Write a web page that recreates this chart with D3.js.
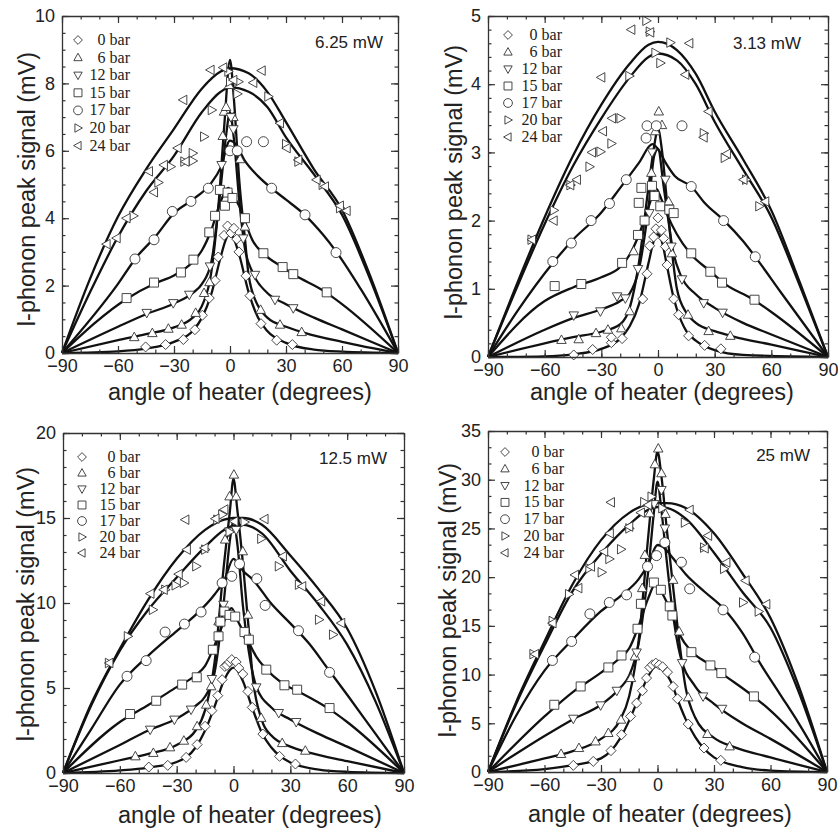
<!DOCTYPE html>
<html>
<head>
<meta charset="utf-8">
<script src="https://cdn.jsdelivr.net/npm/d3@7"></script>
<style>
  body { margin: 0; background: #fff; }
  text { fill: #222; }
</style>
</head>
<body>
<svg id="chart" width="838" height="833"></svg>
<script>
// ---- data ----
const pressures = ["0 bar", "6 bar", "12 bar", "15 bar", "17 bar", "20 bar", "24 bar"];
const powers = ["6.25 mW", "3.13 mW", "12.5 mW", "25 mW"];
const xTickValues = [-90, -60, -30, 0, 30, 60, 90];
const p1YTicks = [0, 2, 4, 6, 8, 10];
const p2YTicks = [0, 1, 2, 3, 4, 5];
const p3YTicks = [0, 5, 10, 15, 20];
const p4YTicks = [0, 5, 10, 15, 20, 25, 30, 35];

// panel 1 : 6.25 mW  (angle, signal)
const p1_pts_0 = [[-45.2,0.18],[-34.5,0.25],[-25,0.40],[-18.8,0.69],[-14.8,1.12],[-11.1,1.63],[-8,2.15],[-6.3,2.85],[-3.2,3.49],[-1.3,3.77],[0.5,3.56],[2.1,3.7],[3.6,3.38],[4.8,3.0],[8.6,2.29],[10.7,1.70],[16.6,0.87],[25,0.38],[33.4,0.25]];
const p1_pts_6 = [[-51.3,0.47],[-41.6,0.59],[-33,0.72],[-25.9,0.84],[-18.4,1.19],[-13.9,1.78],[-11,2.1],[-3.9,6.44],[-3.2,7.16],[-2.1,7.3],[-0.5,7.95],[1.8,7.0],[5.4,5.75],[8,3.75],[16.4,1.28],[26.8,0.84],[38.4,0.62]];
const p1_pts_12 = [[-44.6,1.19],[-30.4,1.48],[-21.8,1.73],[-10.7,2.57],[-4.5,5.58],[0.5,7.0],[1.8,6.64],[7.1,3.4],[13.4,2.32],[24.1,1.58],[33.9,1.33]];
const p1_pts_15 = [[-55.4,1.63],[-40.7,2.09],[-26.3,2.39],[-19.6,2.77],[-11.1,3.58],[-8,4.07],[-5.4,4.84],[-2.7,4.37],[-1.3,4.76],[1.3,4.6],[8,4.0],[17.9,2.96],[28.2,2.55],[33.9,2.34],[51.8,1.8]];
const p1_pts_17 = [[-50.9,2.79],[-40.7,3.36],[-30.9,4.2],[-20.9,4.5],[-11.6,4.89],[0,6.0],[3.9,6.0],[8.9,6.27],[17.9,6.27],[22.3,4.89],[40.2,4.1],[56.8,2.98]];
const p1_pts_20 = [[-51.8,4.07],[-38.4,5.06],[-31.8,5.53],[-24.5,5.68],[-20,5.93],[-20,5.7],[-13.9,6.42],[-9.8,7.21],[-0.9,8.35],[0,8.05],[4.5,8.05],[3.9,7.69],[20.5,7.61],[30,6.2],[36.6,5.68],[49.6,4.99],[58.9,4.3]];
const p1_pts_24 = [[-66.1,3.23],[-60.7,3.41],[-55.4,4.0],[-43.4,5.39],[-40.7,4.77],[-35.4,5.58],[-28,6.08],[-25,7.51],[-23.8,5.68],[-10.4,8.4],[-3.6,8.47],[1.8,8.1],[12.5,8.02],[17,8.38],[26.8,6.82],[30.4,6.08],[36.6,5.73],[46.4,5.14],[50.9,4.94],[58.9,4.37],[62.5,4.22]];
const p1_fit_0 = [[-90,0],[-60,0.05],[-45,0.13],[-30,0.33],[-20,0.65],[-15,1.05],[-10,1.75],[-5,2.85],[-2,3.4],[0,3.55],[2,3.4],[5,2.9],[10,1.8],[15,1.05],[20,0.65],[30,0.3],[45,0.1],[60,0.04],[90,0]];
const p1_fit_6 = [[-90,0],[-60,0.38],[-45,0.56],[-30,0.76],[-20,1.05],[-15,1.4],[-10,2.4],[-6,4.5],[-3,6.8],[0,8.7],[2,7.6],[5,5.1],[8,3.4],[10,2.3],[15,1.4],[20,1.05],[30,0.78],[40,0.6],[60,0.33],[90,0]];
const p1_fit_12 = [[-90,0],[-60,0.78],[-45,1.15],[-30,1.47],[-20,1.78],[-15,2.05],[-10,2.7],[-5,4.9],[-2,6.5],[0,7.15],[2,6.4],[5,4.5],[8,3.1],[12,2.4],[20,1.78],[30,1.45],[45,1.05],[60,0.7],[90,0]];
const p1_fit_15 = [[-90,0],[-55,1.62],[-40,2.07],[-30,2.3],[-20,2.7],[-15,3.05],[-10,3.65],[-5,4.5],[-1,4.9],[2,4.65],[5,4.35],[8,3.9],[12,3.35],[18,2.95],[28,2.55],[35,2.3],[50,1.85],[60,1.45],[90,0]];
const p1_fit_17 = [[-90,0],[-60,2.05],[-50,2.85],[-40,3.45],[-30,4.15],[-20,4.55],[-10,5.05],[-5,5.5],[0,6.3],[3,6.2],[8,5.7],[15,5.25],[22,4.9],[30,4.55],[40,4.1],[50,3.5],[57,3.0],[70,1.9],[90,0]];
const p1_fit_20 = [[-90,0],[-75,1.8],[-60,3.45],[-45,4.8],[-30,5.85],[-15,7.15],[-5,7.75],[0,7.88],[10,7.75],[20,7.3],[30,6.4],[45,5.3],[60,4.1],[75,2.2],[90,0]];
const p1_fit_24 = [[-90,0],[-75,2.2],[-60,4.05],[-45,5.45],[-30,6.65],[-15,7.85],[-5,8.35],[0,8.45],[10,8.3],[20,7.75],[30,6.85],[45,5.45],[60,4.25],[75,2.3],[90,0]];

// panel 2 : 3.13 mW
const p2_pts_0 = [[-44.6,0.03],[-34.6,0.11],[-24.7,0.21],[-24.7,0.29],[-19,0.27],[-8.1,0.85],[-5.8,1.22],[-4.4,1.63],[-2.3,1.76],[-1.1,1.88],[0,2.04],[1.8,1.86],[3,1.74],[3.9,1.62],[4.8,1.35],[8.3,0.85],[10.9,0.62],[16.2,0.31],[24.7,0.17],[33.3,0.12]];
const p2_pts_6 = [[-51.1,0.25],[-42,0.26],[-32.8,0.35],[-26.5,0.4],[-19.4,0.42],[-15,0.67],[-12.9,1.55],[-3.5,2.7],[-1.4,3.31],[0.4,3.6],[2.1,3.4],[5.6,2.28],[7.4,1.52],[15.9,0.62],[26.8,0.38],[38.3,0.31]];
const p2_pts_12 = [[-44.6,0.61],[-30.5,0.67],[-21.7,0.89],[-17.3,0.86],[-10.6,1.29],[-4.6,2.11],[-3.2,3.0],[3.9,2.6],[7.1,1.62],[12.7,1.14],[24.2,0.79],[34.2,0.65]];
const p2_pts_15 = [[-54.7,1.04],[-40.6,1.07],[-19,1.38],[-10.6,1.79],[-7.1,2.0],[-8.8,2.48],[-10.2,2.26],[-3.2,2.51],[-1.8,2.36],[1.2,2.21],[6,2.16],[8.3,2.11],[17.6,1.52],[27.7,1.25],[33.9,1.09],[51.1,0.84]];
const p2_pts_17 = [[-55.7,1.4],[-45.9,1.67],[-35.4,2.0],[-25.7,2.25],[-16.8,2.6],[-5.8,3.39],[-6.3,3.21],[-0.9,3.39],[12.7,3.39],[17.6,2.5],[34.7,2.0],[51.5,1.47]];
const p2_pts_20 = [[-67,1.72],[-55.2,2.15],[-46.4,2.52],[-36.3,2.79],[-30.5,3.01],[-24.7,3.13],[-19.9,3.5],[-15.2,4.12],[-6.2,4.93],[-4.4,4.77],[-1.4,4.46],[1.2,4.31],[6.5,4.61],[24.2,3.28],[35.3,2.92],[46.6,2.6],[53.6,2.21]];
const p2_pts_24 = [[-66.7,1.72],[-55.2,2.0],[-46.4,2.52],[-42.9,2.6],[-34.9,3.0],[-29.1,3.31],[-30,4.1],[-24.3,3.5],[-14.1,4.8],[-4.1,4.76],[16.6,4.6],[14.5,4.14],[26.8,3.6],[24.2,3.22],[36.5,2.98],[45.3,2.6],[56.8,2.28]];
const p2_fit_0 = [[-90,0],[-60,0.01],[-45,0.04],[-30,0.12],[-20,0.27],[-15,0.45],[-10,0.78],[-5,1.38],[-2,1.72],[0,1.8],[2,1.7],[5,1.3],[8,0.9],[10,0.7],[15,0.38],[20,0.24],[30,0.1],[45,0.03],[90,0]];
const p2_fit_6 = [[-90,0],[-60,0.2],[-45,0.29],[-30,0.37],[-20,0.48],[-15,0.72],[-10,1.4],[-5,2.5],[-2,3.1],[0,3.35],[2,3.05],[5,2.2],[8,1.4],[10,1.0],[15,0.65],[20,0.5],[30,0.38],[40,0.3],[60,0.18],[90,0]];
const p2_fit_12 = [[-90,0],[-60,0.4],[-45,0.57],[-30,0.7],[-20,0.82],[-15,0.93],[-10,1.3],[-5,2.2],[-2,2.95],[0,3.05],[3,2.5],[5,2.1],[8,1.55],[12,1.2],[20,0.92],[30,0.72],[45,0.5],[60,0.33],[90,0]];
const p2_fit_15 = [[-90,0],[-60,0.82],[-45,1.02],[-30,1.17],[-20,1.32],[-15,1.5],[-10,1.8],[-5,2.2],[-1,2.47],[2,2.3],[5,2.08],[10,1.8],[17,1.52],[28,1.25],[35,1.08],[50,0.85],[60,0.66],[90,0]];
const p2_fit_17 = [[-90,0],[-75,0.65],[-55,1.4],[-45,1.72],[-30,2.12],[-20,2.48],[-10,2.85],[-3,3.12],[0,3.05],[4,2.85],[9,2.65],[17.6,2.5],[25,2.25],[35,2.0],[45,1.7],[52,1.45],[65,0.95],[90,0]];
const p2_fit_20 = [[-90,0],[-75,1.0],[-60,1.95],[-45,2.8],[-30,3.5],[-15,4.1],[-5,4.4],[0,4.45],[10,4.35],[20,4.0],[30,3.45],[45,2.75],[60,2.05],[75,1.05],[90,0]];
const p2_fit_24 = [[-90,0],[-75,1.05],[-60,2.05],[-45,2.95],[-30,3.7],[-15,4.3],[-5,4.58],[0,4.62],[10,4.5],[20,4.15],[30,3.6],[45,2.9],[60,2.15],[75,1.1],[90,0]];

// panel 3 : 12.5 mW
const p3_pts_0 = [[-44.7,0.35],[-34.7,0.45],[-25,0.92],[-19.2,1.67],[-15,2.75],[-11.4,3.67],[-8.3,4.55],[-6,5.49],[-4.6,6.27],[-3.5,6.33],[-2.1,6.53],[-0.9,6.67],[1.4,6.53],[2.8,6.18],[4.9,5.82],[7.6,4.8],[9.9,3.86],[15.5,2.29],[24.3,0.98],[32.7,0.53]];
const p3_pts_6 = [[-51.8,0.98],[-42.3,1.18],[-33.5,1.51],[-26.2,1.9],[-19.2,2.75],[-14.4,4.02],[-11.8,5.1],[-7.9,8.92],[-4.4,13.73],[-2.1,16.27],[0.2,17.55],[1.4,16.27],[4.9,13.04],[7.6,9.31],[14.6,3.24],[25.7,1.76],[37.9,1.31]];
const p3_pts_12 = [[-44,2.55],[-31.2,3.14],[-22.4,3.73],[-11.4,5.53],[-7,8.92],[-5.3,9.9],[-2.5,14.2],[1.4,14.3],[6.7,7.98],[12,5.04],[23.9,3.53],[33.1,3.0]];
const p3_pts_15 = [[-54.6,3.47],[-40.8,4.25],[-27.1,5.2],[-19.4,5.63],[-10.9,7.25],[-7.9,8.04],[-6.9,8.9],[-4.8,9.5],[-2.1,9.3],[0.9,9.2],[5.8,8.29],[8.1,7.84],[17.3,6.08],[26.9,5.16],[33.6,4.9],[50.7,3.82]];
const p3_pts_17 = [[-56.2,5.69],[-46.1,6.61],[-36.1,8.29],[-25.9,8.76],[-17.1,9.47],[-6,11.18],[-0.9,11.57],[3.2,12.3],[12.3,11.43],[16.7,9.86],[34.3,8.37],[50.7,5.92]];
const p3_pts_20 = [[-65.8,6.47],[-55.8,8.04],[-42.6,9.6],[-36.1,10.78],[-30.6,11.04],[-26.2,11.18],[-19.7,12.16],[-15,13.14],[-8.6,14.9],[-6,15.2],[-2.1,14.18],[5.8,14.76],[14.6,13.78],[23.9,12.16],[34.5,11.08],[45.1,9.02],[52.5,8.14]];
const p3_pts_24 = [[-65.5,6.47],[-43.8,10.55],[-36.8,10.78],[-28.9,11.7],[-25.4,14.9],[-24.6,13.14],[-15.3,13.24],[-9.5,14.96],[-4.8,15.5],[0.5,14.8],[16.4,14.94],[26.1,12.75],[36.3,10.98],[46.3,10.1],[56.9,8.82]];
const p3_fit_0 = [[-90,0],[-60,0.15],[-45,0.32],[-30,0.65],[-20,1.5],[-15,2.5],[-10,3.9],[-5,5.45],[-2,6.05],[0,6.2],[2,6.05],[5,5.4],[10,3.8],[15,2.35],[20,1.5],[30,0.62],[45,0.2],[60,0.07],[90,0]];
const p3_fit_6 = [[-90,0],[-60,0.75],[-45,1.12],[-30,1.65],[-20,2.5],[-15,3.7],[-10,6.5],[-5,12.3],[-2,15.3],[0,17.3],[2,15.5],[5,12.3],[8,8.5],[10,5.8],[15,3.1],[20,2.2],[30,1.55],[40,1.2],[60,0.7],[90,0]];
const p3_fit_12 = [[-90,0],[-60,1.65],[-45,2.5],[-30,3.2],[-20,3.95],[-15,4.5],[-10,5.9],[-5,10.2],[-2,13.6],[0,14.8],[2,13.5],[5,9.8],[8,7.2],[12,5.1],[20,3.85],[30,3.15],[45,2.3],[60,1.55],[90,0]];
const p3_fit_15 = [[-90,0],[-60,3.0],[-45,4.0],[-30,5.05],[-20,5.75],[-15,6.3],[-10,7.5],[-5,8.9],[-1,9.7],[2,9.0],[5,8.35],[8,7.7],[12,6.85],[17,6.15],[27,5.2],[35,4.75],[50,3.8],[60,3.0],[90,0]];
const p3_fit_17 = [[-90,0],[-75,2.6],[-60,5.2],[-45,6.9],[-30,8.35],[-20,9.3],[-10,10.5],[-5,11.3],[0,12.6],[3,12.2],[5,11.9],[10,11.4],[20,9.95],[30,8.8],[40,7.6],[50,6.1],[60,4.6],[75,2.3],[90,0]];
const p3_fit_20 = [[-90,0],[-75,4.0],[-60,7.2],[-45,9.6],[-30,11.5],[-15,13.3],[-5,14.3],[0,14.55],[5,14.6],[15,14.1],[30,11.9],[45,9.9],[60,7.55],[75,4.2],[90,0]];
const p3_fit_24 = [[-90,0],[-75,4.1],[-60,7.3],[-45,10.2],[-30,12.6],[-15,14.3],[-5,14.9],[0,15.0],[5,15.0],[15,14.6],[30,12.8],[45,10.8],[60,8.5],[75,4.8],[90,0]];

// panel 4 : 25 mW
const p4_pts_0 = [[-44.7,0.68],[-34.1,1.09],[-24.7,2.19],[-19.1,3.83],[-14.3,5.71],[-11.1,7.07],[-8,8.34],[-5.8,9.64],[-4.1,10.73],[-2.7,11.0],[-0.9,11.18],[0.9,11.0],[2.7,10.8],[5.3,10.25],[8.3,8.78],[10.6,7.52],[16.3,4.92],[24.7,2.46],[33.6,1.2]];
const p4_pts_6 = [[-51.2,1.85],[-41.7,2.46],[-32.9,3.14],[-26.1,4.0],[-19.4,5.37],[-14.1,9.64],[-12,11.86],[-8.1,18.87],[-6.7,22.28],[-4.1,26.55],[-1.4,31.58],[0.4,33.2],[2.1,30.66],[4.2,26.49],[8.3,19.72],[11.5,14.42],[16.3,7.66],[26.5,3.9],[38.3,2.63]];
const p4_pts_12 = [[-44.7,5.47],[-30.2,6.84],[-21.6,8.34],[-11.1,12.27],[-1.8,27.5],[2.1,28.95],[3.9,25.0],[13.1,11.18],[24.2,7.76],[34.3,6.49]];
const p4_pts_15 = [[-54.8,6.9],[-40.8,8.78],[-26.1,10.73],[-19.1,11.96],[-10.6,14.7],[-8.8,17.26],[-1.9,19.45],[1.8,18.7],[6.5,17.0],[7.9,16.06],[18,12.3],[28.1,10.94],[33.9,10.15],[51.2,7.76]];
const p4_pts_17 = [[-55.8,11.45],[-45.6,13.4],[-35.9,16.23],[-25.6,17.4],[-16.4,18.18],[-5.3,21.09],[-0.5,22.21],[3.9,23.55],[12.7,21.53],[17.1,18.8],[34.8,16.64],[51.6,11.79]];
const p4_pts_20 = [[-65.9,12.1],[-55.7,15.5],[-47,18.25],[-36.2,20.9],[-29.7,20.5],[-25.6,21.87],[-19.4,22.86],[-15,25.0],[-7.1,27.7],[-3.2,28.26],[2.5,27.07],[14.5,25.6],[24.7,23.03],[35.3,20.85],[45.4,17.4],[53.7,16.47]];
const p4_pts_24 = [[-65,12.1],[-55.7,15.28],[-43.8,20.23],[-42,18.87],[-35.3,21.09],[-28.3,22.62],[-25.3,24.5],[-24.7,27.68],[-15,25.19],[-8.8,26.62],[-4.9,27.4],[17.1,26.9],[26.9,24.26],[25.1,22.96],[36.6,21.5],[46.8,19.65],[57.8,17.22]];
const p4_fit_0 = [[-90,0],[-60,0.3],[-45,0.7],[-30,1.4],[-20,3.4],[-15,5.3],[-10,7.6],[-5,9.8],[-2,10.7],[0,10.9],[2,10.7],[5,10.0],[8,8.9],[10,7.8],[15,5.4],[20,3.6],[30,1.5],[45,0.5],[60,0.15],[90,0]];
const p4_fit_6 = [[-90,0],[-60,1.4],[-45,2.15],[-30,3.4],[-20,5.3],[-15,7.8],[-10,13.5],[-5,24],[-2,30],[0,32.9],[2,30.5],[5,24.8],[8,19.5],[10,16],[15,8.6],[20,5.6],[30,3.5],[40,2.6],[60,1.5],[90,0]];
const p4_fit_12 = [[-90,0],[-60,3.7],[-45,5.4],[-30,6.9],[-20,8.6],[-15,9.9],[-10,13.2],[-5,20.5],[-2,26.5],[0,29.8],[2,27],[5,21.5],[8,16.5],[12,12.0],[20,8.8],[30,7.0],[45,5.0],[60,3.4],[90,0]];
const p4_fit_15 = [[-90,0],[-60,5.7],[-45,8.2],[-30,10.2],[-20,11.7],[-15,12.7],[-10,15.0],[-5,17.8],[-1,19.3],[2,18.5],[5,17.4],[8,16.0],[12,14.0],[18,12.4],[28,11.0],[35,10.0],[50,7.9],[60,6.3],[90,0]];
const p4_fit_17 = [[-90,0],[-75,5.8],[-60,10.4],[-45,13.6],[-30,16.5],[-20,18.0],[-10,19.8],[-5,21.3],[0,23.3],[3,23.1],[8,22.0],[15,20.3],[25,18.5],[35,16.8],[45,14.3],[55,11.0],[65,8.0],[75,5.0],[90,0]];
const p4_fit_20 = [[-90,0],[-75,7.0],[-60,13.0],[-45,18.6],[-30,22.4],[-15,25.4],[-5,26.9],[0,27.2],[5,27.1],[15,26.0],[30,22.5],[45,18.5],[60,14.8],[75,8.2],[90,0]];
const p4_fit_24 = [[-90,0],[-75,7.2],[-60,13.4],[-45,19.3],[-30,23.8],[-15,26.6],[-5,27.5],[0,27.6],[5,27.6],[15,27.1],[30,24.5],[45,20.4],[60,15.8],[75,8.8],[90,0]];

// ---- layout of each panel ----
const panels = [
  { left: 62, right: 398, top: 16, bottom: 353, yMax: 10, yTicks: p1YTicks, yMinor: 0.5,
    pts: [p1_pts_0, p1_pts_6, p1_pts_12, p1_pts_15, p1_pts_17, p1_pts_20, p1_pts_24],
    fits: [p1_fit_0, p1_fit_6, p1_fit_12, p1_fit_15, p1_fit_17, p1_fit_20, p1_fit_24],
    power: powers[0], powerX: 383, powerY: 48,
    legX: 78, legTextX: 130, legY: 40, legStep: 17.6,
    xTitleX: 240, xTitleY: 400, yTitleX: 35, yTitleY: 189 },
  { left: 488, right: 828, top: 16, bottom: 357, yMax: 5, yTicks: p2YTicks, yMinor: 0.2,
    pts: [p2_pts_0, p2_pts_6, p2_pts_12, p2_pts_15, p2_pts_17, p2_pts_20, p2_pts_24],
    fits: [p2_fit_0, p2_fit_6, p2_fit_12, p2_fit_15, p2_fit_17, p2_fit_20, p2_fit_24],
    power: powers[1], powerX: 801, powerY: 49,
    legX: 508, legTextX: 562, legY: 35, legStep: 17,
    xTitleX: 662, xTitleY: 400, yTitleX: 462, yTitleY: 182 },
  { left: 63, right: 404, top: 433, bottom: 773, yMax: 20, yTicks: p3YTicks, yMinor: 1,
    pts: [p3_pts_0, p3_pts_6, p3_pts_12, p3_pts_15, p3_pts_17, p3_pts_20, p3_pts_24],
    fits: [p3_fit_0, p3_fit_6, p3_fit_12, p3_fit_15, p3_fit_17, p3_fit_20, p3_fit_24],
    power: powers[2], powerX: 387, powerY: 464,
    legX: 82, legTextX: 140, legY: 457, legStep: 16,
    xTitleX: 250, xTitleY: 823, yTitleX: 34, yTitleY: 604 },
  { left: 488, right: 827, top: 431, bottom: 772, yMax: 35, yTicks: p4YTicks, yMinor: 5 / 3,
    pts: [p4_pts_0, p4_pts_6, p4_pts_12, p4_pts_15, p4_pts_17, p4_pts_20, p4_pts_24],
    fits: [p4_fit_0, p4_fit_6, p4_fit_12, p4_fit_15, p4_fit_17, p4_fit_20, p4_fit_24],
    power: powers[3], powerX: 810, powerY: 461,
    legX: 505, legTextX: 564, legY: 452, legStep: 16.8,
    xTitleX: 660, xTitleY: 822, yTitleX: 456, yTitleY: 600 }
];

const symbolNames = ["diamond", "triUp", "triDown", "square", "circle", "triRight", "triLeft"];

// open marker shapes, s = half size
function markerPath(name, s) {
  switch (name) {
    case "diamond": return `M0,${-s}L${s},0L0,${s}L${-s},0Z`;
    case "square": { const a = s * 0.9; return `M${-a},${-a}H${a}V${a}H${-a}Z`; }
    case "triUp": return `M0,${-s}L${s * 0.95},${s * 0.7}L${-s * 0.95},${s * 0.7}Z`;
    case "triDown": return `M0,${s}L${s * 0.95},${-s * 0.7}L${-s * 0.95},${-s * 0.7}Z`;
    case "triRight": return `M${s},0L${-s * 0.7},${-s * 0.95}L${-s * 0.7},${s * 0.95}Z`;
    case "triLeft": return `M${-s},0L${s * 0.7},${-s * 0.95}L${s * 0.7},${s * 0.95}Z`;
    case "circle": return d3.arc()({ innerRadius: 0, outerRadius: s, startAngle: 0, endAngle: 2 * Math.PI });
  }
}

const svg = d3.select("#chart");
const axisColor = "#333";

function minorValues(max, step) {
  const out = [];
  for (let v = 0; v <= max + 1e-9; v += step) out.push(v);
  return out;
}

function drawPanel(p) {
  const g = svg.append("g");
  const x = d3.scaleLinear().domain([-90, 90]).range([p.left, p.right]);
  const y = d3.scaleLinear().domain([0, p.yMax]).range([p.bottom, p.top]);

  // fitted curves
  const line = d3.line().x(d => x(d[0])).y(d => y(d[1])).curve(d3.curveMonotoneX);
  g.append("g").selectAll("path")
    .data(p.fits)
    .enter().append("path")
    .attr("d", d => line(d))
    .attr("fill", "none")
    .attr("stroke", "#111")
    .attr("stroke-width", 2.3)
    .attr("stroke-linejoin", "round");

  // data markers
  p.pts.forEach((series, i) => {
    g.append("g").selectAll("path")
      .data(series)
      .enter().append("path")
      .attr("transform", d => `translate(${x(d[0])},${y(d[1])})`)
      .attr("d", markerPath(symbolNames[i], 5))
      .attr("fill", "#fff")
      .attr("stroke", "#333")
      .attr("stroke-width", 0.9);
  });

  // frame with inward ticks
  const xMinor = minorValues(180, 10).map(v => v - 90);
  const yMinor = minorValues(p.yMax, p.yMinor);
  const axes = [
    { gen: d3.axisBottom, scale: x, pos: `translate(0,${p.bottom})`, major: xTickValues, minor: xMinor, labels: true },
    { gen: d3.axisTop, scale: x, pos: `translate(0,${p.top})`, major: xTickValues, minor: xMinor, labels: false },
    { gen: d3.axisLeft, scale: y, pos: `translate(${p.left},0)`, major: p.yTicks, minor: yMinor, labels: true },
    { gen: d3.axisRight, scale: y, pos: `translate(${p.right},0)`, major: p.yTicks, minor: yMinor, labels: false }
  ];
  axes.forEach(a => {
    const isX = a.scale === x;
    g.append("g").attr("transform", a.pos)
      .call(a.gen(a.scale).tickValues(a.minor).tickSizeInner(-3.5).tickSizeOuter(0).tickFormat(""))
      .call(s => s.select(".domain").remove());
    const ax = g.append("g").attr("transform", a.pos)
      .call(a.gen(a.scale).tickValues(a.major).tickSizeInner(-7).tickSizeOuter(0)
        .tickPadding(isX ? 6 : 7)
        .tickFormat(a.labels ? d3.format("d") : ""));
    ax.selectAll("path, line").attr("stroke", axisColor).attr("stroke-width", 1.3);
    ax.selectAll("text").attr("font-family", "Liberation Sans, Arial, sans-serif")
      .attr("font-size", 18).attr("fill", "#222");
  });
  g.selectAll("g.tick line").attr("stroke", axisColor).attr("stroke-width", 1.2);

  // axis titles
  g.append("text")
    .attr("x", p.xTitleX).attr("y", p.xTitleY)
    .attr("text-anchor", "middle")
    .attr("font-family", "Liberation Sans, Arial, sans-serif")
    .attr("font-size", 23.5)
    .text("angle of heater (degrees)");
  g.append("text")
    .attr("transform", `translate(${p.yTitleX},${p.yTitleY}) rotate(-90)`)
    .attr("text-anchor", "middle")
    .attr("font-family", "Liberation Sans, Arial, sans-serif")
    .attr("font-size", 23.5)
    .text("l-phonon peak signal (mV)");

  // heater power
  g.append("text")
    .attr("x", p.powerX).attr("y", p.powerY)
    .attr("text-anchor", "end")
    .attr("font-family", "Liberation Sans, Arial, sans-serif")
    .attr("font-size", 17)
    .text(p.power);

  // legend
  pressures.forEach((name, i) => {
    const ly = p.legY + i * p.legStep;
    g.append("path")
      .attr("transform", `translate(${p.legX},${ly})`)
      .attr("d", markerPath(symbolNames[i], 4.4))
      .attr("fill", "#fff")
      .attr("stroke", "#333")
      .attr("stroke-width", 0.9);
    g.append("text")
      .attr("x", p.legTextX).attr("y", ly + 5)
      .attr("text-anchor", "end")
      .attr("font-family", "Liberation Serif, Times New Roman, serif")
      .attr("font-size", 16)
      .text(name);
  });
}

panels.forEach(drawPanel);
</script>
</body>
</html>
